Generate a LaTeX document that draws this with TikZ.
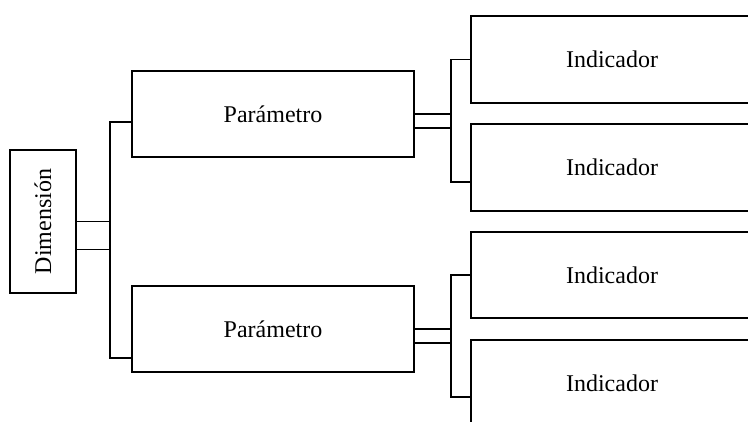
\documentclass[tikz,border=0pt]{standalone}
\usepackage{fontspec}
\setmainfont{Liberation Serif}
\begin{document}
\begin{tikzpicture}[x=1pt,y=-1pt,line width=1.6pt,
  box/.style={draw=black,rectangle,inner sep=0pt,outer sep=0pt,
    font=\fontsize{24}{28}\selectfont},
  link/.style={draw=black,line width=1.6pt}]
\useasboundingbox (0,0) rectangle (748,421);
\clip (0,0) rectangle (748,421);

% boxes
\node[box,minimum width=66pt,minimum height=143pt] (dim) at (43,221.5)
  {\rotatebox{90}{Dimensión}};
\node[box,minimum width=282pt,minimum height=86pt] (p1) at (273,114) {Parámetro};
\node[box,minimum width=282pt,minimum height=86pt] (p2) at (273,329) {Parámetro};
\node[box,minimum width=282pt,minimum height=87pt] (i1) at (612,59.5) {Indicador};
\node[box,minimum width=282pt,minimum height=87pt] (i2) at (612,167.5) {Indicador};
\node[box,minimum width=282pt,minimum height=86pt] (i3) at (612,275) {Indicador};
\node[box,minimum width=282pt,minimum height=87pt] (i4) at (612,383.5) {Indicador};

% junction points of the brackets
\coordinate (b0) at (110,221.5);
\coordinate (b1) at (451,114);
\coordinate (b2) at (451,329);

% Dimensión -> Parámetro
\draw[link] (dim.east) -- (dim.east -| b0);
\draw[link] ([yshift=-28pt]dim.east) -- ([yshift=-28pt]dim.east -| b0);
\draw[link] ([yshift=-8pt]p1.west) -| (b0) |- ([yshift=-29pt]p2.west);

% Parámetro -> Indicador
\draw[link] (p1.east) -- (p1.east -| b1);
\draw[link] ([yshift=-14pt]p1.east) -- ([yshift=-14pt]p1.east -| b1);
\draw[link] (i1.west) -| (b1) |- ([yshift=-14.5pt]i2.west);

\draw[link] (p2.east) -- (p2.east -| b2);
\draw[link] ([yshift=-14pt]p2.east) -- ([yshift=-14pt]p2.east -| b2);
\draw[link] (i3.west) -| (b2) |- ([yshift=-13.5pt]i4.west);
\end{tikzpicture}
\end{document}
